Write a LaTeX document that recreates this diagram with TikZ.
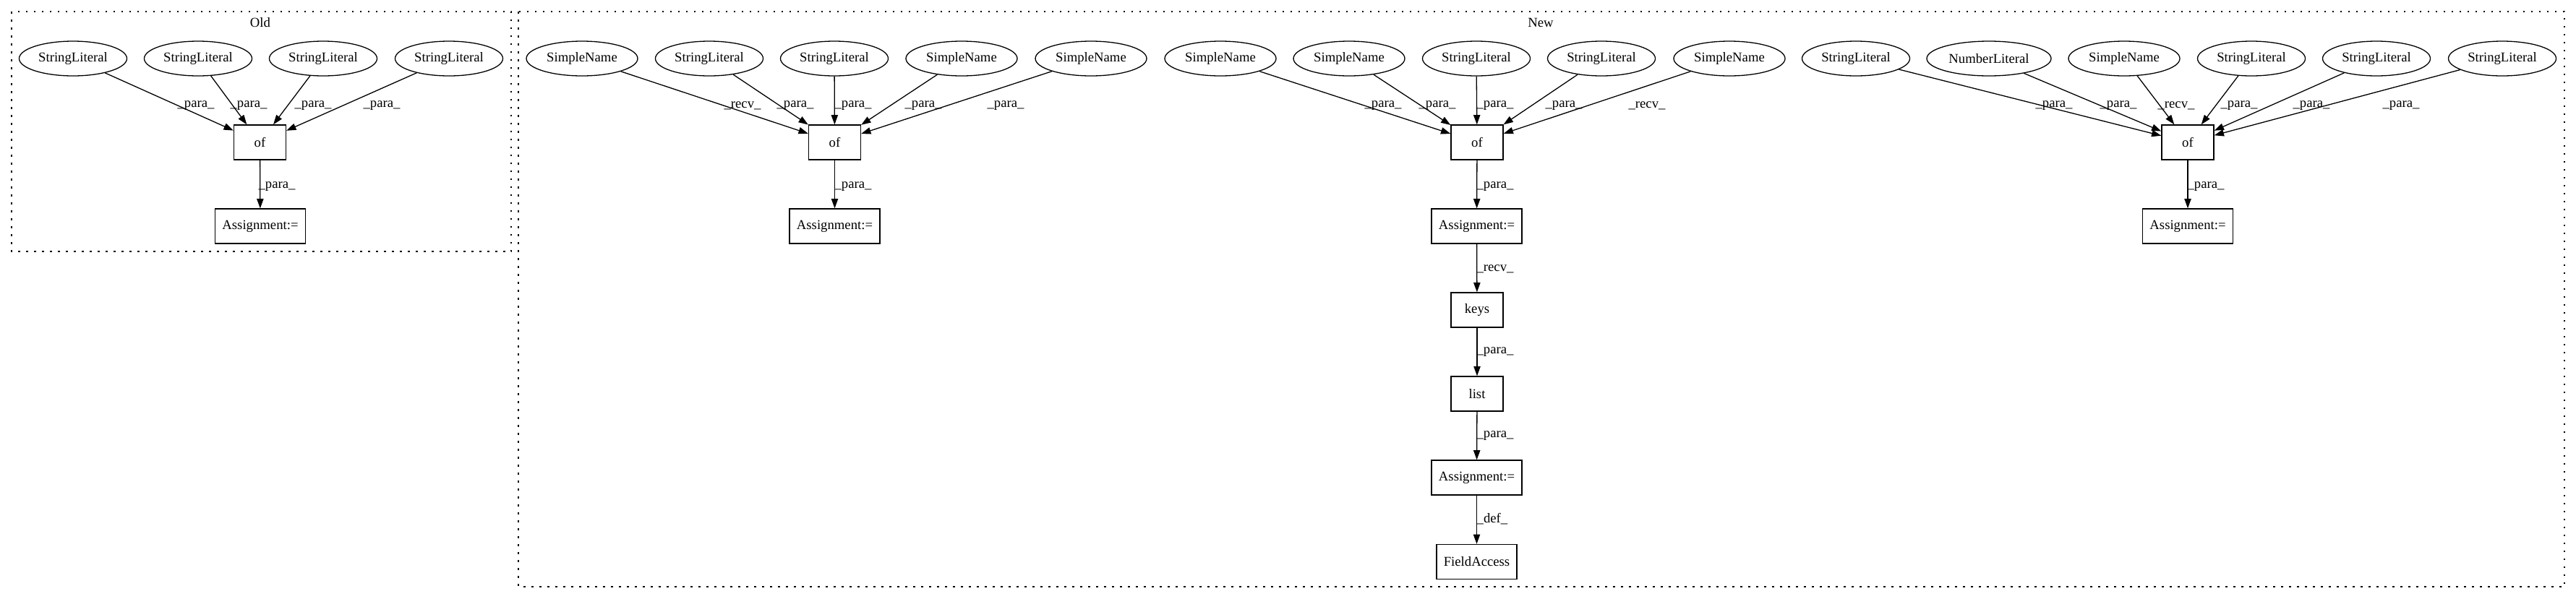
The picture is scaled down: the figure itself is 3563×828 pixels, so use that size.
\documentclass[tikz,border=0pt]{standalone}
\usepackage{fontspec}
\setmainfont{Liberation Serif}
\usetikzlibrary{arrows.meta,shapes.geometric}
\tikzset{
  ell/.style={draw,ellipse,line width=1.3pt,minimum height=48pt,inner sep=0pt,font=\fontsize{18.7pt}{22pt}\selectfont},
  sl/.style={ell,minimum width=149pt},
  sn/.style={ell,minimum width=154pt},
  nl/.style={ell,minimum width=172pt},
  boxn/.style={draw,rectangle,line width=1.3pt,minimum height=48pt,inner sep=0pt,font=\fontsize{18.7pt}{22pt}\selectfont},
  ofbox/.style={boxn,minimum width=72pt},
  asbox/.style={boxn,minimum width=125pt},
  edge/.style={line width=1.3pt,-{Triangle[length=13.3pt,width=9.3pt]}},
  elab/.style={font=\fontsize{18.7pt}{22pt}\selectfont,inner sep=0pt},
  cluster/.style={line width=1.3pt,dash pattern=on 2.5pt off 8.5pt},
  ctitle/.style={font=\fontsize{18.7pt}{22pt}\selectfont,inner sep=0pt}
}
\begin{document}
\begin{tikzpicture}[x=1pt,y=-1pt]
\useasboundingbox (0,0) rectangle (3563,828);
% clusters
\draw[cluster] (16,16) rectangle (707,348);
\node[ctitle] (told) at (360,31) {Old};
\draw[cluster] (717,16) rectangle (3547,812);
\node[ctitle] (tnew) at (2131,31) {New};

% ---- Old
\node[sl] (o1) at (101,81) {StringLiteral};
\node[sl] (o2) at (274,81) {StringLiteral};
\node[sl] (o3) at (447,81) {StringLiteral};
\node[sl] (o4) at (621,81) {StringLiteral};
\node[ofbox] (oof) at (359.5,197) {of};
\node[asbox] (oas) at (360,313) {Assignment:=};
\draw[edge] (o1) -- (oof) node[elab] at (271,146) {\_para\_};
\draw[edge] (o2) -- (oof) node[elab] at (344,146) {\_para\_};
\draw[edge] (o3) -- (oof) node[elab] at (433,146) {\_para\_};
\draw[edge] (o4) -- (oof) node[elab] at (528,146) {\_para\_};
\draw[edge] (oof) -- (oas) node[elab] at (383,258) {\_para\_};

% ---- New, group A
\node[sn] (a1) at (805,81) {SimpleName};
\node[sl] (a2) at (981,81) {StringLiteral};
\node[sl] (a3) at (1154,81) {StringLiteral};
\node[sn] (a4) at (1330,81) {SimpleName};
\node[sn] (a5) at (1509,81) {SimpleName};
\node[ofbox] (aof) at (1154.5,197) {of};
\node[asbox] (aas) at (1154.5,313) {Assignment:=};
\draw[edge] (a1) -- (aof) node[elab] at (1027,146) {\_recv\_};
\draw[edge] (a2) -- (aof) node[elab] at (1100,146) {\_para\_};
\draw[edge] (a3) -- (aof) node[elab] at (1180,146) {\_para\_};
\draw[edge] (a4) -- (aof) node[elab] at (1277,146) {\_para\_};
\draw[edge] (a5) -- (aof) node[elab] at (1391,146) {\_para\_};
\draw[edge] (aof) -- (aas) node[elab] at (1180,258) {\_para\_};

% ---- New, group B
\node[sn] (b1) at (1688,81) {SimpleName};
\node[sn] (b2) at (1866,81) {SimpleName};
\node[sl] (b3) at (2042,81) {StringLiteral};
\node[sl] (b4) at (2215,81) {StringLiteral};
\node[sn] (b5) at (2392,81) {SimpleName};
\node[ofbox] (bof) at (2043,197) {of};
\node[asbox] (bas) at (2042.5,313) {Assignment:=};
\node[ofbox] (keys) at (2043,429) {keys};
\node[ofbox] (list) at (2043,545) {list};
\node[asbox] (bas2) at (2042.5,661) {Assignment:=};
\node[boxn,minimum width=111pt] (fa) at (2042.5,777.5) {FieldAccess};
\draw[edge] (b1) -- (bof) node[elab] at (1913,146) {\_para\_};
\draw[edge] (b2) -- (bof) node[elab] at (1988,146) {\_para\_};
\draw[edge] (b3) -- (bof) node[elab] at (2068,146) {\_para\_};
\draw[edge] (b4) -- (bof) node[elab] at (2163,146) {\_para\_};
\draw[edge] (b5) -- (bof) node[elab] at (2278,146) {\_recv\_};
\draw[edge] (bof) -- (bas) node[elab] at (2068,258) {\_para\_};
\draw[edge] (bas) -- (keys) node[elab] at (2068,372) {\_recv\_};
\draw[edge] (keys) -- (list) node[elab] at (2068,487) {\_para\_};
\draw[edge] (list) -- (bas2) node[elab] at (2068,603) {\_para\_};
\draw[edge] (bas2) -- (fa) node[elab] at (2064,718) {\_def\_};

% ---- New, group C
\node[sl] (c1) at (2567,81) {StringLiteral};
\node[nl] (c2) at (2751,81) {NumberLiteral};
\node[sn] (c3) at (2938,81) {SimpleName};
\node[sl] (c4) at (3114,81) {StringLiteral};
\node[sl] (c5) at (3287,81) {StringLiteral};
\node[sl] (c6) at (3461,81) {StringLiteral};
\node[ofbox] (cof) at (3026,197) {of};
\node[asbox] (cas) at (3026,313) {Assignment:=};
\draw[edge] (c1) -- (cof) node[elab] at (2841,146) {\_para\_};
\draw[edge] (c2) -- (cof) node[elab] at (2930,146) {\_para\_};
\draw[edge] (c3) -- (cof) node[elab] at (3010,146) {\_recv\_};
\draw[edge] (c4) -- (cof) node[elab] at (3097,146) {\_para\_};
\draw[edge] (c5) -- (cof) node[elab] at (3197,146) {\_para\_};
\draw[edge] (c6) -- (cof) node[elab] at (3321,146) {\_para\_};
\draw[edge] (cof) -- (cas) node[elab] at (3051,258) {\_para\_};
\end{tikzpicture}
\end{document}
